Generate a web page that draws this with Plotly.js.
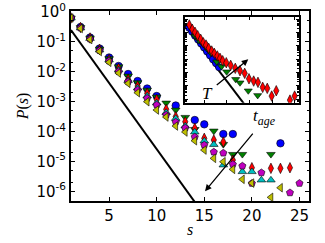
<!DOCTYPE html>
<html><head><meta charset="utf-8">
<script src="https://cdn.plot.ly/plotly-3.0.1.min.js"></script>
<style>html,body{margin:0;padding:0;background:#fff}#plot{width:325px;height:243px}</style>
</head><body><div id="plot"></div>
<script>
// Main panel: P(s) vs s
var sVals = [1,2,3,4,5,6,7,8,9,10,11,12,13,14,15,16,17,18,19,20,21,22,23,24,25];
var pBlue    = [0.63,0.315,0.1404,0.0602,0.0301,0.0156,0.00844,0.00492,0.00276,0.00155,null,0.000746,null,0.000244,0.000175,null,0.0000831,0.0000831,null,null,null,null,0.0000406,null,null];
var pGreen   = [0.63,0.303,0.1351,0.0579,0.0278,0.0148,0.00724,0.00432,0.00246,0.00144,0.000905,0.000528,0.000301,0.000119,null,0.000105,0.0000376,0.0000174,0.0000174,null,null,0.0000174,null,null,null];
var pRed     = [0.63,0.303,0.1351,0.0557,0.0258,0.0129,0.00561,0.00335,0.00191,0.00118,0.000557,0.000315,0.000214,0.000129,0.0000597,0.0000524,0.0000449,0.0000112,null,0.0000062,null,0.00000592,0.00000592,0.0000062,null];
var pCyan    = [0.63,0.292,0.130,0.0536,0.0248,0.0115,0.00512,0.00287,0.00155,0.000905,0.000435,0.000274,0.000154,0.000097,0.0000485,0.000037,0.00000763,null,0.00000456,0.00000456,0.0000024,0.0000024,null,null,null];
var pMagenta = [0.63,0.292,0.125,0.0516,0.0230,0.0102,0.00467,0.00246,0.0013,0.000775,0.000359,0.000209,0.000132,0.000066,0.0000356,0.0000208,0.0000192,0.00000806,0.00000707,0.00000187,0.00000422,null,null,0.000000905,0.00000187];
var pYellow  = [0.63,0.281,0.1203,0.0477,0.0208,0.00912,0.00412,0.002,0.001,0.000528,0.000308,0.000154,0.000097,0.0000496,0.0000242,0.0000128,0.00000985,0.00000548,0.00000254,0.0000019,null,0.000000635,0.00000133,null,null];
var refLineS = [1, 15];
var refLineP = [0.25, 1.6e-7];

var yTickVals = [1e-6,1e-5,1e-4,1e-3,1e-2,1e-1,1];
var yTickText = ['10<sup>-6</sup>','10<sup>-5</sup>','10<sup>-4</sup>','10<sup>-3</sup>','10<sup>-2</sup>','10<sup>-1</sup>','10<sup>0</sup>'];
var xTickVals = [5,10,15,20,25];

// Inset
var inRedT = [3.49,4.81,6.00,7.19,8.51,9.65,10.84,12.03,13.35,14.50,15.82,17.00,18.19,19.78,21.71,23.74,25.81,27.88,29.77,31.84,33.73,35.80,37.82,39.76,41.78,47.81,49.88];
var inRedP = [0.356,0.169,0.101,0.0561,0.0301,0.0167,0.0112,0.00635,0.00398,0.00267,0.00168,0.00113,0.000745,0.000527,0.000336,0.0002,0.000132,0.0000843,0.0000331,0.0000223,0.0000178,0.0000075,0.00000631,0.00000167,0.00000417,0.000000834,0.00000167];
var inBlueT = [3.36,4.68,6.00,7.32,8.64,9.96,11.28,12.60,13.92,15.24,16.56];
var inBlueP = [0.22,0.11,0.0561,0.0286,0.0143,0.0073,0.00365,0.00186,0.000931,0.000475,0.000242];
var inGreenT = [6.00,7.76,9.65,11.28,13.04,15.55,17.67,19.95,23.92,25.81,29.46,33.60];
var inGreenP = [0.0532,0.0244,0.0133,0.00613,0.00282,0.000627,0.000273,0.000111,0.0000299,0.0000166,0.00000416,0.00000188];
var inLineT = [1.6, 30];
var inLineP = [0.296, 1.27e-7];

function mk(x, y, color, symbol, size, xa, ya) {
  return {x: x, y: y, type: 'scatter', mode: 'markers', xaxis: xa, yaxis: ya,
    marker: {color: color, symbol: symbol, size: size, line: {color: 'black', width: 0.6}},
    showlegend: false, hoverinfo: 'skip'};
}
var data = [
  {x: refLineS, y: refLineP, type: 'scatter', mode: 'lines', line: {color: 'black', width: 2}, showlegend: false, xaxis: 'x', yaxis: 'y'},
  mk(sVals, pBlue, '#0000ff', 'circle', 7.5, 'x', 'y'),
  mk(sVals, pGreen, '#008000', 'triangle-down', 7.5, 'x', 'y'),
  mk(sVals, pRed, '#ff0000', 'diamond-tall', 7.5, 'x', 'y'),
  mk(sVals, pCyan, '#00bfbf', 'triangle-up', 7.5, 'x', 'y'),
  mk(sVals, pMagenta, '#bf00bf', 'pentagon', 7.5, 'x', 'y'),
  mk(sVals, pYellow, '#bfbf00', 'triangle-left', 7.5, 'x', 'y'),
  {x: inLineT, y: inLineP, type: 'scatter', mode: 'lines', line: {color: 'black', width: 2}, showlegend: false, xaxis: 'x2', yaxis: 'y2'},
  mk(inBlueT, inBlueP, '#0000ff', 'circle', 7, 'x2', 'y2'),
  mk(inGreenT, inGreenP, '#008000', 'triangle-down', 7, 'x2', 'y2'),
  mk(inRedT, inRedP, '#ff0000', 'diamond-tall', 7.5, 'x2', 'y2')
];

var tickFont = {family: 'DejaVu Sans', size: 15, color: 'black'};
var layout = {
  width: 325, height: 243,
  margin: {l: 71, r: 16, t: 11, b: 42},
  paper_bgcolor: 'white', plot_bgcolor: 'white',
  xaxis: {range: [1, 26], tickvals: xTickVals, ticks: 'inside', ticklen: 4, tickwidth: 1, tickcolor: 'black',
    mirror: 'allticks', showline: true, linecolor: 'black', linewidth: 2, showgrid: false, zeroline: false,
    tickfont: tickFont,
    title: {text: '<i>s</i>', font: {family: 'Liberation Serif', size: 16, color: 'black'}, standoff: 0}},
  yaxis: {type: 'log', range: [-6.32, 0.033], tickvals: yTickVals, ticktext: yTickText, ticks: 'inside', ticklen: 4,
    tickwidth: 1, tickcolor: 'black', mirror: 'allticks', showline: true, linecolor: 'black', linewidth: 2,
    showgrid: false, zeroline: false, tickfont: tickFont,
    minor: {ticks: 'inside', ticklen: 2, tickcolor: 'black', showgrid: false},
    title: {text: '<i>P</i>(<i>s</i>)', font: {family: 'Liberation Serif', size: 16, color: 'black'}, standoff: 4}},
  xaxis2: {domain: [0.479, 0.959], anchor: 'y2', range: [1.6, 51.9], tickvals: [10,20,30,40,50], showticklabels: false,
    ticks: 'inside', ticklen: 3, tickcolor: 'black', mirror: 'allticks', showline: true, linecolor: 'black', linewidth: 2,
    showgrid: false, zeroline: false},
  yaxis2: {domain: [0.517, 0.967], anchor: 'x2', type: 'log', range: [-6.28, 0.13], dtick: 1, showticklabels: false,
    ticks: 'inside', ticklen: 3, tickcolor: 'black', mirror: 'allticks', showline: true, linecolor: 'black', linewidth: 2,
    showgrid: false, zeroline: false,
    minor: {ticks: 'inside', ticklen: 2, tickcolor: 'black', showgrid: false}},
  annotations: [
    {xref: 'x', yref: 'y', x: 21.3, y: -3.5, text: '<i>t</i><sub><i>age</i></sub>', showarrow: false,
      font: {family: 'Liberation Serif', size: 17, color: 'black'}},
    {xref: 'x', yref: 'y', x: 15.08, y: -5.99, ax: 49, ay: -59, text: '', showarrow: true,
      arrowhead: 2, arrowsize: 1, arrowwidth: 1.3, arrowcolor: 'black'},
    {xref: 'x2', yref: 'y2', x: 11.72, y: -5.553, text: '<i>T</i>', showarrow: false,
      font: {family: 'Liberation Serif', size: 17, color: 'black'}},
    {xref: 'x2', yref: 'y2', x: 29.46, y: -3.023, ax: -33, ay: 27, text: '', showarrow: true,
      arrowhead: 2, arrowsize: 1, arrowwidth: 1.3, arrowcolor: 'black'}
  ]
};
Plotly.newPlot('plot', data, layout, {staticPlot: true, displayModeBar: false});
</script>
</body></html>
